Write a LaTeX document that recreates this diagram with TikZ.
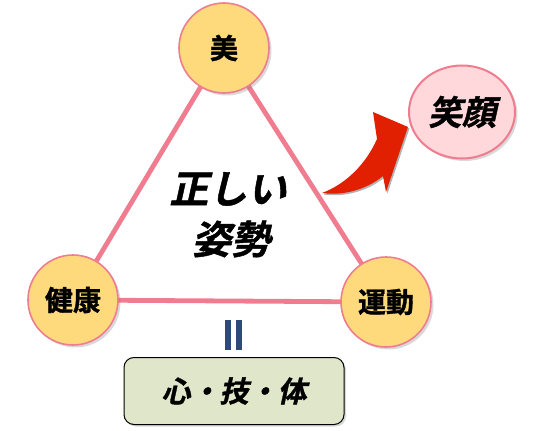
\documentclass[tikz,border=0pt]{standalone}
\usepackage{fontspec}
\newfontfamily\jpbold[FakeBold=1.2]{Noto Sans CJK JP Bold}
\newfontfamily\jpslant[FakeSlant=0.22,FakeBold=1.2]{Noto Sans CJK JP Bold}
\usetikzlibrary{shadows,shapes.geometric}
\definecolor{ballfill}{HTML}{FFDA7C}
\definecolor{edgepink}{HTML}{F07C90}
\definecolor{smilefill}{HTML}{FFD8DC}
\definecolor{boxfill}{HTML}{DFE6CA}
\definecolor{barblue}{HTML}{2E4A7A}
\definecolor{arrowred}{HTML}{E02000}
\tikzset{
  ball/.style={circle,draw=edgepink,line width=1.6pt,fill=ballfill,minimum size=90pt,inner sep=0pt,
    font=\jpbold\fontsize{28}{28}\selectfont,
    drop shadow={shadow xshift=2.5pt,shadow yshift=-2.5pt,opacity=0.3}},
  side/.style={edgepink,line width=4.8pt},
  bigtext/.style={font=\jpslant\fontsize{39}{39}\selectfont}
}
\begin{document}
\begin{tikzpicture}[x=1pt,y=-1pt]
\useasboundingbox (0,0) rectangle (550,431);
% triangle
\coordinate (top) at (224,48);
\coordinate (left) at (73,300);
\coordinate (right) at (386,302);
\draw[side] (top) -- (left) -- (right) -- cycle;
\node[ball] (bi) at (top) {美};
\node[ball] (kenko) at (left) {健康};
\node[ball] (undo) at (right) {運動};
\node[bigtext] (tadashii) at (228,189) {正しい};
\node[bigtext] (shisei) at (231,239) {姿勢};
% smile
\node[ellipse,draw=edgepink,line width=2pt,fill=smilefill,minimum width=106pt,minimum height=93pt,inner sep=0pt,
  font=\jpslant\fontsize{34}{34}\selectfont,drop shadow={shadow xshift=2.5pt,shadow yshift=-2.5pt,opacity=0.3}] (egao) at (462,112) {笑顔};
\fill[arrowred,drop shadow={shadow xshift=1.5pt,shadow yshift=-1.5pt,opacity=0.6}]
  (322,193) .. controls (346,184) and (366,164) .. (377,139) -- (373,112) -- (408,127) -- (386,192) -- (383,176)
  .. controls (366,190) and (342,196) .. (322,193) -- cycle;
% equals
\fill[barblue] (225,320) rectangle (231,350);
\fill[barblue] (236,320) rectangle (242,350);
\node[draw=black,line width=1pt,fill=boxfill,rounded corners=10pt,minimum width=220pt,minimum height=67pt,
  font=\jpslant\fontsize{29}{29}\selectfont,drop shadow={shadow xshift=2pt,shadow yshift=-2pt,opacity=0.3}] (shingitai) at (234,391) {心・技・体};
\end{tikzpicture}
\end{document}
